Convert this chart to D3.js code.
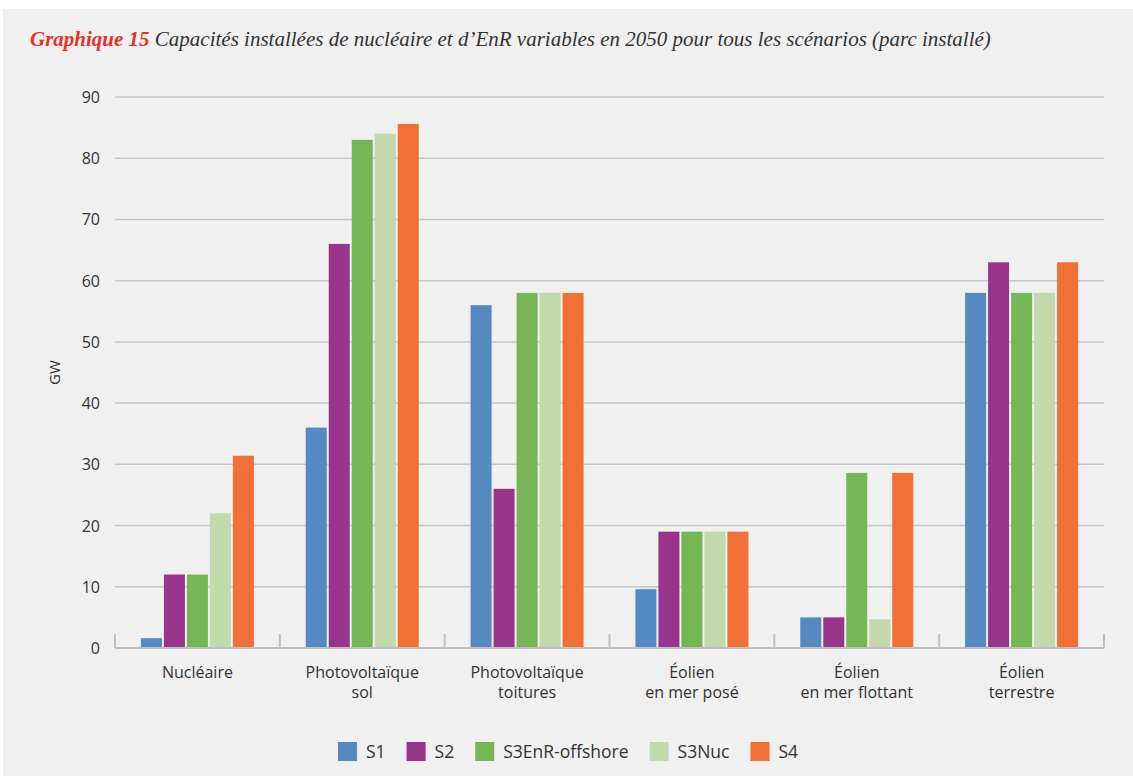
<!DOCTYPE html>
<html lang="fr">
<head>
    <meta charset="UTF-8">
    <title>Graphique 15</title>
    <script src="https://d3js.org/d3.v7.min.js"></script>
    <style>
        body {
            margin: 0;
            background: #ffffff;
            font-family: 'Open Sans', sans-serif;
        }
        svg { display: block; }
    </style>
</head>
<body>
    <div id="chart"></div>
    <script>
        // data (GW, parc installé 2050)
        const categories = [
            ["Nucléaire"],
            ["Photovoltaïque", "sol"],
            ["Photovoltaïque", "toitures"],
            ["Éolien", "en mer posé"],
            ["Éolien", "en mer flottant"],
            ["Éolien", "terrestre"]
        ];
        const series = ["S1", "S2", "S3EnR-offshore", "S3Nuc", "S4"];
        const colors = ["#5589c2", "#98348c", "#77b655", "#c2d9ab", "#f07038"];

        const S1 = [1.6, 36, 56, 9.6, 5, 58];
        const S2 = [12, 66, 26, 19, 5, 63];
        const S3EnR = [12, 83, 58, 19, 28.6, 58];
        const S3Nuc = [22, 84, 58, 19, 4.7, 58];
        const S4 = [31.4, 85.6, 58, 19, 28.6, 63];
        const values = [S1, S2, S3EnR, S3Nuc, S4];

        const yTicks = [0, 10, 20, 30, 40, 50, 60, 70, 80, 90];

        const width = 1133, height = 776;
        const margin = {left: 115, right: 29, top: 97, bottom: 128};

        let svg = d3.select("#chart").append("svg")
            .attr("width", width)
            .attr("height", height);

        // grey panel
        svg.append("rect")
            .attr("x", 3).attr("y", 9)
            .attr("width", width - 3).attr("height", height - 9)
            .attr("fill", "#eff0ef");

        // title
        let title = svg.append("text")
            .attr("x", 30).attr("y", 46)
            .style("font-family", "'Liberation Serif', serif")
            .style("font-style", "italic")
            .style("font-size", "21px");
        title.append("tspan")
            .attr("fill", "#e5332a")
            .style("font-weight", "bold")
            .text("Graphique 15");
        title.append("tspan")
            .attr("fill", "#333")
            .text(" Capacités installées de nucléaire et d’EnR variables en 2050 pour tous les scénarios (parc installé)");

        const x = d3.scaleBand()
            .domain(d3.range(categories.length))
            .range([margin.left, width - margin.right]);

        const y = d3.scaleLinear()
            .domain([0, 90])
            .range([height - margin.bottom, margin.top]);

        const g = svg.append("g");

        // gridlines
        g.selectAll(".grid")
            .data(yTicks.filter(d => d > 0))
            .enter().append("line")
            .attr("x1", margin.left).attr("x2", width - margin.right)
            .attr("y1", d => y(d)).attr("y2", d => y(d))
            .attr("stroke", "#c6c7c7")
            .attr("stroke-width", 1.5);

        // y labels
        g.selectAll(".ylab")
            .data(yTicks)
            .enter().append("text")
            .attr("x", 100)
            .attr("y", d => y(d) + 6)
            .attr("text-anchor", "end")
            .attr("fill", "#333")
            .style("font-size", "16px")
            .text(d => d);

        svg.append("text")
            .attr("transform", "translate(60," + y(45) + ") rotate(-90)")
            .attr("text-anchor", "middle")
            .attr("fill", "#333")
            .style("font-size", "15px")
            .text("GW");

        // bars
        const barW = 21, step = 23;
        series.forEach((s, si) => {
            g.selectAll(".bar" + si)
                .data(values[si])
                .enter().append("rect")
                .attr("x", (d, i) => x(i) + x.bandwidth() / 2 - (series.length * step - 2) / 2 + si * step)
                .attr("y", d => y(d))
                .attr("width", barW)
                .attr("height", d => y(0) - y(d))
                .attr("fill", colors[si]);
        });

        // baseline & ticks
        g.append("line")
            .attr("x1", margin.left).attr("x2", width - margin.right)
            .attr("y1", y(0)).attr("y2", y(0))
            .attr("stroke", "#c0c0c0")
            .attr("stroke-width", 2);
        g.selectAll(".tick")
            .data(d3.range(categories.length + 1))
            .enter().append("line")
            .attr("x1", d => margin.left + d * x.bandwidth())
            .attr("x2", d => margin.left + d * x.bandwidth())
            .attr("y1", y(0)).attr("y2", y(0) - 14)
            .attr("stroke", "#c0c0c0")
            .attr("stroke-width", 2);

        // category labels (one text per line)
        categories.forEach((lines, i) => {
            lines.forEach((l, li) => {
                g.append("text")
                    .attr("x", x(i) + x.bandwidth() / 2)
                    .attr("y", 678 + li * 20)
                    .attr("text-anchor", "middle")
                    .attr("fill", "#333")
                    .style("font-size", "16px")
                    .text(l);
            });
        });

        // legend
        let lx = 338;
        series.forEach((s, si) => {
            svg.append("rect")
                .attr("x", lx).attr("y", 742)
                .attr("width", 19).attr("height", 19)
                .attr("fill", colors[si]);
            let t = svg.append("text")
                .attr("x", lx + 28).attr("y", 758)
                .attr("fill", "#333")
                .style("font-size", "17.5px")
                .text(s);
            lx += 28 + t.node().getComputedTextLength() + 21;
        });
    </script>
</body>
</html>
